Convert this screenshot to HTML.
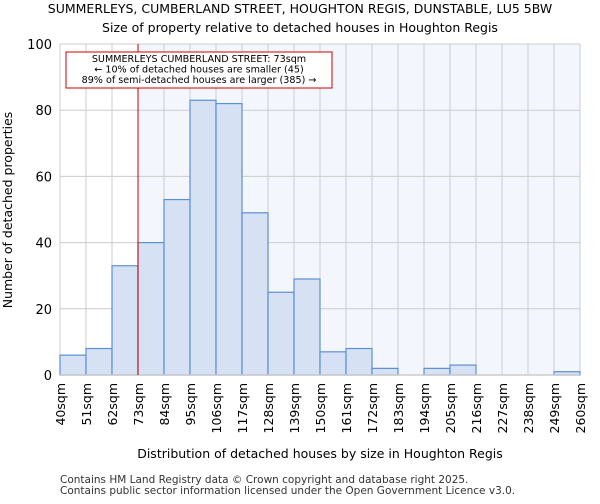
<!DOCTYPE html>
<html><head><meta charset="utf-8"><style>
body{margin:0;background:#fff;font-family:"DejaVu Sans","Liberation Sans",sans-serif;}
</style></head><body>
<svg id="chart" width="600" height="500" xmlns="http://www.w3.org/2000/svg" font-family="DejaVu Sans, Liberation Sans, sans-serif">
<text x="300" y="13" text-anchor="middle" font-size="12.5">SUMMERLEYS, CUMBERLAND STREET, HOUGHTON REGIS, DUNSTABLE, LU5 5BW</text>
<text x="300" y="32" text-anchor="middle" font-size="12.5">Size of property relative to detached houses in Houghton Regis</text>
<g id="plot"></g>
<text x="320" y="458" text-anchor="middle" font-size="12.5">Distribution of detached houses by size in Houghton Regis</text>
<text transform="translate(12,210) rotate(-90)" text-anchor="middle" font-size="12.5">Number of detached properties</text>
<text x="60" y="483" font-size="10.5" fill="#333">Contains HM Land Registry data © Crown copyright and database right 2025.</text>
<text x="60" y="494" font-size="10.5" fill="#333">Contains public sector information licensed under the Open Government Licence v3.0.</text>
</svg>
<script>
const categories=["40sqm","51sqm","62sqm","73sqm","84sqm","95sqm","106sqm","117sqm","128sqm","139sqm","150sqm","161sqm","172sqm","183sqm","194sqm","205sqm","216sqm","227sqm","238sqm","249sqm","260sqm"];
const counts=[6,8,33,40,53,83,82,49,25,29,7,8,2,0,2,3,0,0,0,1];
const yTicks=[0,20,40,60,80,100];
const markerIndex=3;
const X0=60,X1=580,Y0=375,Y1=44,YMAX=100;
const bw=(X1-X0)/counts.length;
const xs=i=>X0+i*bw;
const ys=v=>Y0-(v/YMAX)*(Y0-Y1);
const NS="http://www.w3.org/2000/svg";
const g=document.getElementById('plot');
function mk(t,a){const e=document.createElementNS(NS,t);for(const k in a)e.setAttribute(k,a[k]);g.appendChild(e);return e;}
let e=mk('rect',{x:xs(markerIndex),y:Y1,width:X1-xs(markerIndex),height:Y0-Y1,fill:'#f3f6fd'});


for(let i=0;i<categories.length;i++){e=mk('line',{x1:xs(i),x2:xs(i),y1:Y1,y2:Y0,stroke:'#cccccc','stroke-width':1});

}
yTicks.forEach(t=>{e=mk('line',{x1:X0,x2:X1,y1:ys(t),y2:ys(t),stroke:'#cccccc','stroke-width':1});


e=mk('text',{x:X0-8,y:ys(t)+5,'text-anchor':'end','font-size':13});e.textContent=t;

});
counts.forEach((v,i)=>{e=mk('rect',{x:xs(i),y:ys(v),width:bw,height:Y0-ys(v),fill:'#d6e1f3',stroke:'#5b8fd6','stroke-width':1.2});

});
e=mk('line',{x1:X0,x2:X1,y1:Y0,y2:Y0,stroke:'#cccccc','stroke-width':1.5});


categories.forEach((c,i)=>{e=mk('text',{transform:`translate(${xs(i)+5},${Y0+8}) rotate(-90)`,'text-anchor':'end','font-size':12.5});e.textContent=c;

});
e=mk('line',{x1:xs(markerIndex),x2:xs(markerIndex),y1:Y1,y2:Y0,stroke:'#cc0000','stroke-width':1});


e=mk('rect',{x:66,y:52,width:266,height:36,fill:'#fff',stroke:'#cc0000','stroke-width':1});


["SUMMERLEYS CUMBERLAND STREET: 73sqm","← 10% of detached houses are smaller (45)","89% of semi-detached houses are larger (385) →"].forEach((s,k)=>{
e=mk('text',{x:199,y:62+k*10.5,'text-anchor':'middle','font-size':9.6});e.textContent=s;

});
</script>
</body></html>
